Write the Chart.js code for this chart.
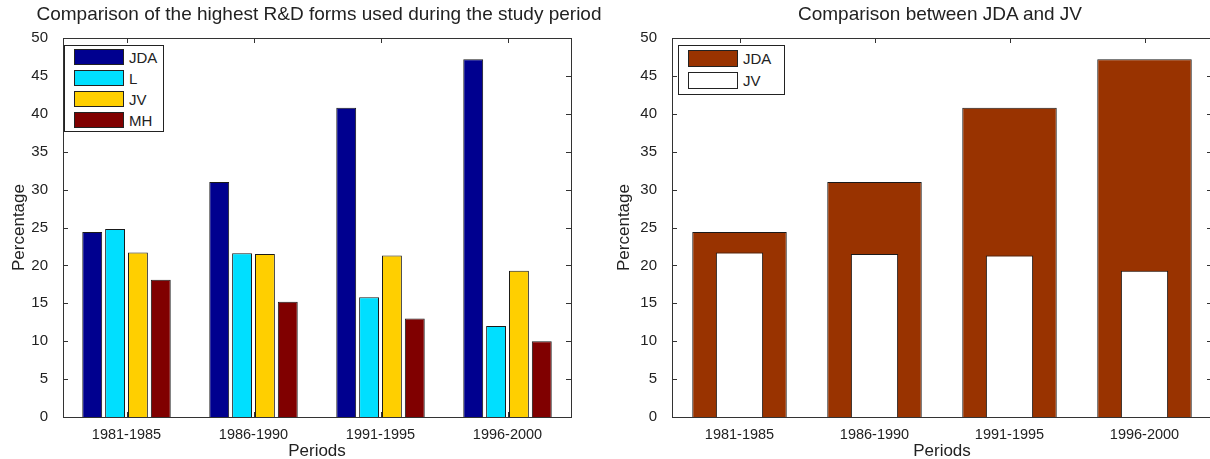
<!DOCTYPE html>
<html>
<head>
<meta charset="utf-8">
<script src="https://cdn.jsdelivr.net/npm/chart.js@4.4.1/dist/chart.umd.min.js"></script>
<style>
  body { margin:0; width:1210px; height:459px; overflow:hidden; background:#fff; position:relative;
         font-family:"Liberation Sans", Arial, sans-serif; color:#222; }
  .panel { position:absolute; top:0; }
  .title { position:absolute; top:3px; font-size:19px; white-space:nowrap; transform:translateX(-50%); }
  .legend { position:absolute; background:#fff; border:1px solid #222; box-sizing:border-box; }
  .legend .item { position:absolute; font-size:15px; line-height:17px; white-space:nowrap; }
  .legend .sw { position:absolute; border:1px solid #222; box-sizing:border-box; }
</style>
</head>
<body>
<div class="panel" style="left:0;width:605px;height:459px"><canvas id="c1" width="605" height="459"></canvas></div>
<div class="panel" style="left:605px;width:620px;height:459px"><canvas id="c2" width="620" height="459"></canvas></div>
<div class="title" style="left:319px">Comparison of the highest R&amp;D forms used during the study period</div>
<div class="title" style="left:940px">Comparison between JDA and JV</div>
<div class="legend" id="leg1" style="left:64px;top:45px;width:100px;height:87px"></div>
<div class="legend" id="leg2" style="left:678px;top:45px;width:107px;height:50px"></div>
<script>
// data
const periods = ['1981-1985', '1986-1990', '1991-1995', '1996-2000'];
const jdaVals = [24.4, 31.0, 40.8, 47.2];
const lVals   = [24.8, 21.6, 15.8, 12.0];
const jvVals  = [21.7, 21.5, 21.3, 19.3];
const mhVals  = [18.1, 15.2, 13.0, 10.0];
const yMax = 50, yStep = 5;

const font = '"Liberation Sans", Arial, sans-serif';
const txt = '#222';

// MATLAB style box with inward ticks on all sides
const boxTicks = {
  id: 'boxTicks',
  beforeDatasetsDraw(chart) {
    const {ctx, chartArea: a, scales: {x, y}} = chart;
    ctx.save();
    ctx.strokeStyle = '#333'; ctx.lineWidth = 1;
    ctx.beginPath();
    y.ticks.forEach(t => {
      const py = Math.round(y.getPixelForValue(t.value)) + 0.5;
      ctx.moveTo(a.left, py); ctx.lineTo(a.left + 5, py);
      ctx.moveTo(a.right, py); ctx.lineTo(a.right - 5, py);
    });
    x.ticks.forEach((t, i) => {
      const px = Math.round(x.getPixelForTick(i)) + 0.5;
      ctx.moveTo(px, a.top); ctx.lineTo(px, a.top + 5);
      ctx.moveTo(px, a.bottom); ctx.lineTo(px, a.bottom - 5);
    });
    ctx.stroke();
    ctx.strokeRect(Math.round(a.left) + 0.5, Math.round(a.top) + 0.5,
                   Math.round(a.right - a.left), Math.round(a.bottom - a.top));
    ctx.restore();
  }
};

function scalesFor(yWidth) {
  return {
    x: {
      grid: { display:false }, border: { display:false },
      ticks: { color:txt, font:{ family:font, size:14.5 }, padding:1, maxRotation:0, autoSkip:false },
      title: { display:true, text:'Periods', color:txt, font:{ family:font, size:17 }, padding:{ top:0, bottom:-3 } },
      afterFit: s => { s.height = 42; }
    },
    y: {
      min:0, max:yMax,
      grid: { display:false }, border: { display:false },
      ticks: { stepSize:yStep, color:txt, font:{ family:font, size:15 }, padding:7 },
      title: { display:true, text:'Percentage', color:txt, font:{ family:font, size:17 }, padding:{ top:9, bottom:0 } },
      afterFit: s => { s.width = yWidth; }
    }
  };
}

const bar = (label, data, color) => ({
  label, data, backgroundColor: color, borderColor:'#1a1a1a', borderWidth:1,
  categoryPercentage:0.72, barPercentage:0.87
});

const set1 = [
  bar('JDA', jdaVals, '#00008F'),
  bar('L',   lVals,   '#00DFFF'),
  bar('JV',  jvVals,  '#FFCF00'),
  bar('MH',  mhVals,  '#800000')
];

new Chart(document.getElementById('c1'), {
  type:'bar',
  data:{ labels:periods, datasets:set1 },
  options:{
    responsive:false, animation:false,
    layout:{ padding:{ left:0, top:38, right:34, bottom:0 } },
    plugins:{ legend:{ display:false }, tooltip:{ enabled:false } },
    scales: scalesFor(63)
  },
  plugins:[boxTicks]
});

const set2 = [
  { label:'JDA', data:jdaVals, backgroundColor:'#993300', borderColor:'#1a1a1a', borderWidth:1,
    grouped:false, categoryPercentage:1, barPercentage:0.70, order:1 },
  { label:'JV', data:jvVals, backgroundColor:'#FFFFFF', borderColor:'#1a1a1a', borderWidth:1,
    grouped:false, categoryPercentage:1, barPercentage:0.35, order:0 }
];

new Chart(document.getElementById('c2'), {
  type:'bar',
  data:{ labels:periods, datasets:set2 },
  options:{
    responsive:false, animation:false,
    layout:{ padding:{ left:0, top:38, right:13, bottom:0 } },
    plugins:{ legend:{ display:false }, tooltip:{ enabled:false } },
    scales: scalesFor(67)
  },
  plugins:[boxTicks]
});

// legends drawn inside the axes like MATLAB
function buildLegend(id, sets, swW, swH, step, top) {
  const el = document.getElementById(id);
  sets.forEach((d, i) => {
    const sw = document.createElement('div');
    sw.className = 'sw';
    sw.style.cssText = `left:9px;top:${top + i*step}px;width:${swW}px;height:${swH}px;background:${d.backgroundColor}`;
    const t = document.createElement('div');
    t.className = 'item';
    t.style.cssText = `left:${swW + 14}px;top:${top + i*step + (swH - 17)/2}px`;
    t.textContent = d.label;
    el.appendChild(sw); el.appendChild(t);
  });
}
buildLegend('leg1', set1, 50, 16, 21, 3);
buildLegend('leg2', set2, 50, 17, 22, 4);
</script>
</body>
</html>
